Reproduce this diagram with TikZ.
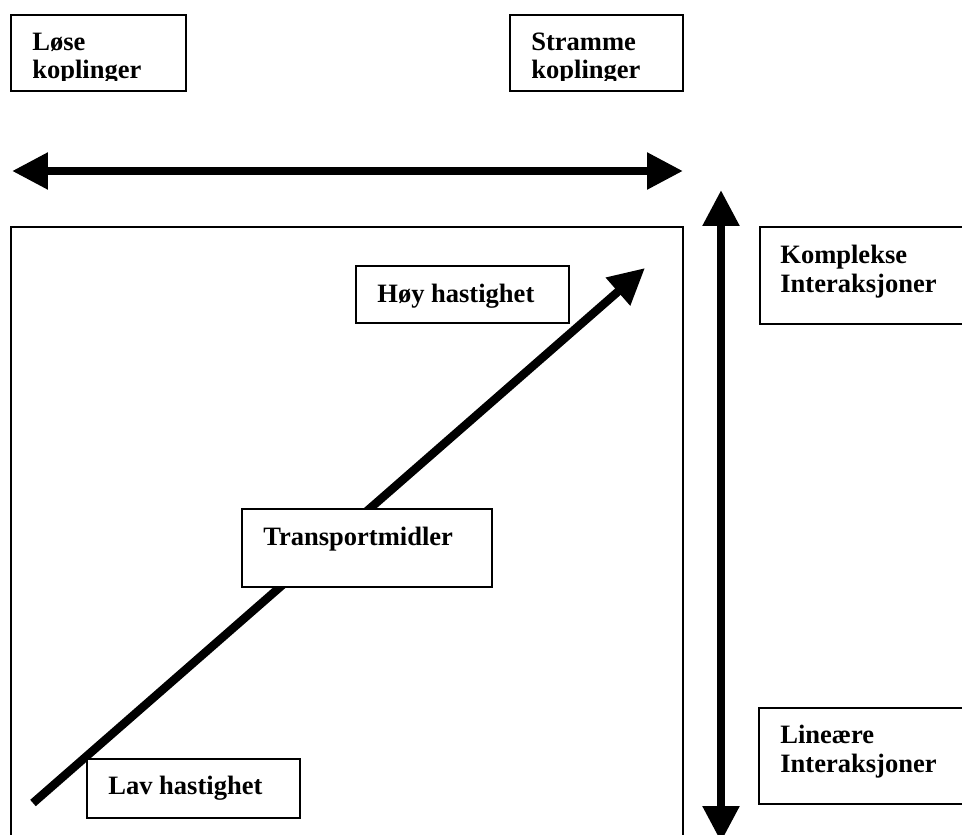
\documentclass[tikz,border=0pt]{standalone}
\usepackage{fontspec}
\setmainfont{Liberation Serif}
\usetikzlibrary{arrows.meta}

\tikzset{
  kasse/.style={draw,fill=white,line width=0.8pt},
  tekst/.style={inner sep=0pt,align=left,anchor=base west,
    font=\fontsize{15.1pt}{16.4pt}\selectfont\bfseries},
  pil/.style={line width=4.8pt,-{Triangle[length=0.72cm,width=0.7cm]}},
  dobbelpil/.style={line width=4.8pt,{Triangle[length=0.72cm,width=0.7cm]}-{Triangle[length=0.72cm,width=0.7cm]}}
}

\begin{document}
\begin{tikzpicture}[x=0.02cm,y=-0.02cm]
        \useasboundingbox (0,0) rectangle (962,834);
        \clip (0,0) rectangle (962,834);
        \draw[kasse] (11,227) rectangle (683,860);
        % arrows
        \coordinate (venstre) at (12,171);
        \coordinate (hoyre) at (683,171);
        \coordinate (topp) at (721,190);
        \coordinate (bunn) at (721,842);
        \coordinate (start) at (33,803);
        \coordinate (slutt) at (645,268);
        \draw[dobbelpil] (venstre) -- (hoyre);
        \draw[dobbelpil] (topp) -- (bunn);
        \draw[pil] (start) -- (slutt);
        % boxes
        \draw[kasse] (11,15) rectangle (186,91);
        \draw[kasse] (510,15) rectangle (683,91);
        \draw[kasse] (356,266) rectangle (569,323);
        \draw[kasse] (242,509) rectangle (492,587);
        \draw[kasse] (87,759) rectangle (300,818);
        \draw[kasse] (760,227) rectangle (975,324);
        \draw[kasse] (759,708) rectangle (975,804);
        % texts (base = last line)
        \begin{scope}
            \clip (0,0) rectangle (700,81);
            \node[tekst] (lose) at (32,79) {Løse\\koplinger};
            \node[tekst] (stramme) at (531,79) {Stramme\\koplinger};
        \end{scope}
        \node[tekst] (hoy) at (377,302) {Høy hastighet};
        \node[tekst] (transport) at (263,545) {Transportmidler};
        \node[tekst] (lav) at (108,794) {Lav hastighet};
        \node[tekst] (komplekse) at (780,292) {Komplekse\\Interaksjoner};
        \node[tekst] (lineaere) at (780,772) {Lineære\\Interaksjoner};
    \end{tikzpicture}
\end{document}
